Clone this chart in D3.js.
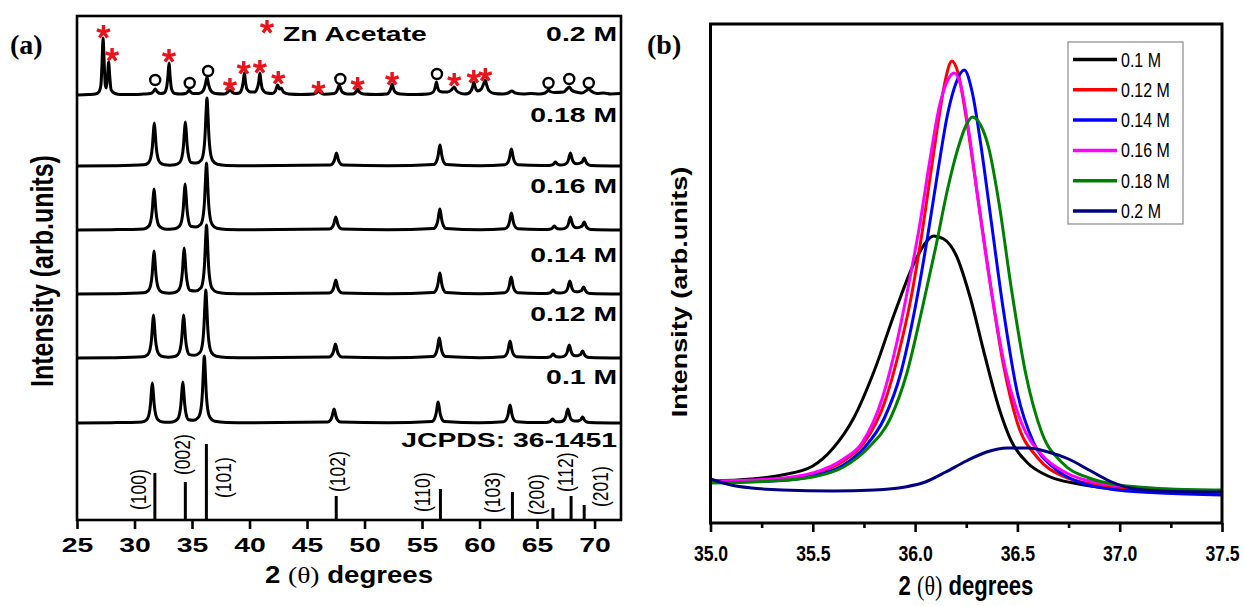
<!DOCTYPE html>
<html><head><meta charset="utf-8">
<script src="https://cdn.jsdelivr.net/npm/d3@7"></script>
<style>body{margin:0;background:#fff}svg text{white-space:pre}</style>
</head><body>
<svg id="c" width="1245" height="606"></svg>
<script>
// ================= DATA =================
// Panel (a): XRD patterns [2theta, intensity above own baseline]
const concLabels = ["0.1 M","0.12 M","0.14 M","0.16 M","0.18 M","0.2 M"];
const xrd01M = [[25,0],[28,0.3],[30.65,1.1],[31.05,3.2],[31.25,8],[31.39,18.8],[31.47,31.2],[31.55,40],[31.63,31.2],[31.71,18.8],[31.85,8],[32.05,3.2],[32.45,1.1],[32.9,0.8],[33.3,1.1],[33.7,3.3],[33.9,8.2],[34.04,19.3],[34.12,32],[34.2,41],[34.28,32],[34.36,19.3],[34.5,8.2],[34.7,3.3],[35.13,2.8],[35.57,5.9],[35.77,13.4],[35.91,31.5],[35.99,52.3],[36.07,67],[36.15,52.3],[36.23,31.5],[36.37,13.4],[36.57,5.4],[36.97,1.8],[38,0.6],[40,0.3],[46.8,1],[47.05,3.1],[47.19,7],[47.27,11.2],[47.35,14],[47.43,11.2],[47.51,7],[47.65,3.1],[47.9,1],[52,0.2],[55.85,1.5],[56.1,4.6],[56.24,10.5],[56.32,16.8],[56.4,21],[56.48,16.8],[56.56,10.5],[56.7,4.6],[56.95,1.5],[60,0.3],[62.1,1.3],[62.35,4],[62.49,9],[62.57,14.4],[62.65,18],[62.73,14.4],[62.81,9],[62.95,4],[63.2,1.3],[65.2,0.4],[65.8,0.5],[66.05,1.1],[66.19,2],[66.27,3.2],[66.35,4],[66.43,3.2],[66.51,2.1],[66.65,1.3],[66.95,1.2],[67.13,1.5],[67.38,3.3],[67.52,7.1],[67.6,11.3],[67.68,14],[67.76,11.3],[67.84,7.2],[67.98,3.5],[68.25,2],[68.5,2],[68.66,2.5],[68.8,3.3],[68.88,4.9],[68.96,6],[69.04,4.8],[69.12,3],[69.26,1.4],[69.55,0.5],[72.3,0]];
const xrd012M = [[25,0],[28,0.3],[30.75,1.2],[31.15,3.4],[31.35,8.6],[31.49,20.2],[31.57,33.5],[31.65,43],[31.73,33.5],[31.81,20.2],[31.95,8.6],[32.15,3.4],[32.55,1.2],[32.95,0.8],[33.37,1.2],[33.77,3.4],[33.97,8.6],[34.11,20.2],[34.19,33.5],[34.27,43],[34.35,33.5],[34.43,20.2],[34.57,8.6],[34.77,3.4],[35.23,2.8],[35.7,5.8],[35.9,13.6],[36.04,32],[36.12,53],[36.2,68],[36.28,53],[36.36,32],[36.5,13.6],[36.7,5.4],[37.1,1.8],[38,0.6],[40,0.3],[46.92,1],[47.17,3.1],[47.31,7],[47.39,11.2],[47.47,14],[47.55,11.2],[47.63,7],[47.77,3.1],[48.02,1],[52,0.2],[55.95,1.4],[56.2,4.4],[56.34,10],[56.42,16],[56.5,20],[56.58,16],[56.66,10],[56.8,4.4],[57.05,1.4],[60,0.3],[62.1,1.2],[62.35,3.7],[62.49,8.5],[62.57,13.6],[62.65,17],[62.73,13.6],[62.81,8.5],[62.95,3.7],[63.2,1.2],[65.2,0.4],[65.85,0.5],[66.1,1.1],[66.24,2],[66.32,3.2],[66.4,4],[66.48,3.2],[66.56,2.1],[66.7,1.3],[67.0,1.1],[67.25,1.4],[67.5,3.1],[67.64,6.7],[67.72,10.5],[67.8,13],[67.88,10.5],[67.96,6.8],[68.1,3.4],[68.32,2.2],[68.52,2.3],[68.66,2.9],[68.8,3.8],[68.88,5.7],[68.96,7],[69.04,5.6],[69.12,3.5],[69.26,1.6],[69.55,0.5],[72.3,0]];
const xrd014M = [[25,0],[28,0.3],[30.8,1.2],[31.2,3.4],[31.4,8.6],[31.54,20.2],[31.62,33.5],[31.7,43],[31.78,33.5],[31.86,20.2],[32.0,8.6],[32.2,3.4],[32.6,1.2],[33.0,0.8],[33.42,1.2],[33.82,3.7],[34.02,9.2],[34.16,21.6],[34.24,35.9],[34.32,46],[34.4,35.9],[34.48,21.6],[34.62,9.2],[34.82,3.7],[35.29,2.9],[35.76,5.9],[35.96,13.8],[36.1,32.4],[36.18,53.8],[36.26,69],[36.34,53.8],[36.42,32.4],[36.56,13.8],[36.76,5.5],[37.16,1.9],[38,0.6],[40,0.3],[46.95,1],[47.2,3.1],[47.34,7],[47.42,11.2],[47.5,14],[47.58,11.2],[47.66,7],[47.8,3.1],[48.05,1],[52,0.2],[56.0,1.5],[56.25,4.6],[56.39,10.5],[56.47,16.8],[56.55,21],[56.63,16.8],[56.71,10.5],[56.85,4.6],[57.1,1.5],[60,0.3],[62.2,1.2],[62.45,3.7],[62.59,8.5],[62.67,13.6],[62.75,17],[62.83,13.6],[62.91,8.5],[63.05,3.7],[63.3,1.2],[65.2,0.4],[65.85,0.5],[66.1,1.1],[66.24,2],[66.32,3.2],[66.4,4],[66.48,3.2],[66.56,2.1],[66.7,1.3],[67.02,1.1],[67.3,1.4],[67.55,3.1],[67.69,6.7],[67.77,10.5],[67.85,13],[67.93,10.5],[68.01,6.8],[68.15,3.4],[68.4,2.2],[68.61,2.3],[68.75,2.9],[68.89,3.8],[68.97,5.7],[69.05,7],[69.13,5.6],[69.21,3.5],[69.35,1.6],[69.65,0.5],[72.3,0]];
const xrd016M = [[25,0],[28,0.3],[30.8,1.1],[31.2,3.3],[31.4,8.2],[31.54,19.3],[31.62,32],[31.7,41],[31.78,32],[31.86,19.3],[32.0,8.2],[32.2,3.3],[32.6,1.1],[33.05,0.8],[33.5,1.2],[33.9,3.7],[34.1,9.2],[34.24,21.6],[34.32,35.9],[34.4,46],[34.48,35.9],[34.56,21.6],[34.7,9.2],[34.9,3.7],[35.33,3],[35.76,5.8],[35.96,13.4],[36.1,31.5],[36.18,52.3],[36.26,67],[36.34,52.3],[36.42,31.5],[36.56,13.4],[36.76,5.4],[37.16,1.8],[38,0.6],[40,0.3],[46.95,0.9],[47.2,2.9],[47.34,6.5],[47.42,10.4],[47.5,13],[47.58,10.4],[47.66,6.5],[47.8,2.9],[48.05,0.9],[52,0.2],[56.0,1.5],[56.25,4.6],[56.39,10.5],[56.47,16.8],[56.55,21],[56.63,16.8],[56.71,10.5],[56.85,4.6],[57.1,1.5],[60,0.3],[62.22,1.2],[62.47,3.7],[62.61,8.5],[62.69,13.6],[62.77,17],[62.85,13.6],[62.93,8.5],[63.07,3.7],[63.32,1.2],[65.3,0.4],[65.95,0.5],[66.2,1.1],[66.34,2],[66.42,3.2],[66.5,4],[66.58,3.2],[66.66,2.1],[66.8,1.3],[67.08,1.1],[67.35,1.4],[67.6,3.1],[67.74,6.7],[67.82,10.5],[67.9,13],[67.98,10.5],[68.06,6.8],[68.2,3.5],[68.45,2.3],[68.66,2.6],[68.8,3.3],[68.94,4.3],[69.02,6.5],[69.1,8],[69.18,6.4],[69.26,4],[69.4,1.8],[69.7,0.6],[72.3,0]];
const xrd018M = [[25,0],[28,0.3],[30.82,1.2],[31.22,3.4],[31.42,8.6],[31.56,20.2],[31.64,33.5],[31.72,43],[31.8,33.5],[31.88,20.2],[32.02,8.6],[32.22,3.4],[32.62,1.2],[33.07,0.8],[33.52,1.2],[33.92,3.5],[34.12,8.8],[34.26,20.7],[34.34,34.3],[34.42,44],[34.5,34.3],[34.58,20.7],[34.72,8.8],[34.92,3.5],[35.36,2.9],[35.8,5.8],[36.0,13.6],[36.14,32],[36.22,53],[36.3,68],[36.38,53],[36.46,32],[36.6,13.6],[36.8,5.4],[37.2,1.8],[38,0.6],[40,0.3],[47.01,0.9],[47.26,2.9],[47.4,6.5],[47.48,10.4],[47.56,13],[47.64,10.4],[47.72,6.5],[47.86,2.9],[48.11,0.9],[52,0.2],[56.01,1.5],[56.26,4.6],[56.4,10.5],[56.48,16.8],[56.56,21],[56.64,16.8],[56.72,10.5],[56.86,4.6],[57.11,1.5],[60,0.3],[62.22,1.2],[62.47,3.7],[62.61,8.5],[62.69,13.6],[62.77,17],[62.85,13.6],[62.93,8.5],[63.07,3.7],[63.32,1.2],[65.4,0.4],[66.05,0.5],[66.3,1.1],[66.44,2],[66.52,3.2],[66.6,4],[66.68,3.2],[66.76,2.1],[66.9,1.3],[67.1,1.1],[67.35,1.4],[67.6,3.1],[67.74,6.7],[67.82,10.5],[67.9,13],[67.98,10.5],[68.06,6.8],[68.2,3.5],[68.45,2.3],[68.66,2.6],[68.8,3.3],[68.94,4.3],[69.02,6.5],[69.1,8],[69.18,6.4],[69.26,4],[69.4,1.8],[69.7,0.6],[72.3,0]];
const xrd02M = [[25,0],[26,0.5],[26.6,1],[26.9,3],[27.08,10],[27.17,30],[27.27,57],[27.37,30],[27.47,9],[27.55,7],[27.65,18],[27.75,33],[27.85,18],[27.97,5],[28.3,1.5],[28.8,0.5],[30,0.5],[30.8,1],[31.4,1.5],[31.65,3.5],[31.8,6],[31.95,3.5],[32.25,1.5],[32.55,2],[32.78,7],[32.9,18],[33.0,32],[33.1,18],[33.22,6],[33.5,1.5],[34.0,1],[34.45,1.5],[34.62,3],[34.75,5],[34.88,3],[35.1,1.5],[35.6,1.5],[35.95,4],[36.15,10],[36.3,18],[36.45,10],[36.65,4],[37.0,1.5],[37.8,1],[38.1,2.8],[38.3,5],[38.5,2.8],[38.8,1.5],[39.1,2],[39.33,6],[39.45,13],[39.55,22],[39.65,13],[39.77,6],[40.1,3],[40.45,3],[40.68,7],[40.8,13],[40.9,22],[41.0,13],[41.12,6],[41.5,2],[42.0,1.5],[42.25,4],[42.45,10],[42.6,6],[42.75,7],[42.95,3],[43.4,1],[44.5,0.5],[45.6,1],[45.85,2.5],[46.0,4],[46.15,2.5],[46.5,0.8],[47.35,1.5],[47.6,4],[47.7,7],[47.8,10],[47.9,7],[48.05,3],[48.5,1],[49.0,1],[49.25,3],[49.4,6],[49.55,3],[49.9,1],[51,0.5],[51.95,1],[52.2,4],[52.3,7],[52.4,11],[52.5,7],[52.65,3],[53.1,1],[54.5,0.5],[55.5,1],[55.85,2],[56.08,5],[56.17,9],[56.25,13],[56.35,8],[56.5,4],[56.8,3],[57.2,3],[57.55,5],[57.7,7],[57.8,8],[57.95,5],[58.2,2.5],[58.7,1],[59.0,1.5],[59.3,5],[59.42,9],[59.5,13],[59.62,8],[59.85,4],[60.15,6],[60.35,11],[60.5,15],[60.62,10],[60.85,4],[61.3,1.5],[62.0,1],[62.5,2],[62.8,4],[63.1,2],[63.8,1],[64.5,1.5],[65.2,1],[65.7,2],[65.9,4],[66.0,5],[66.15,3.5],[66.5,2.5],[67.3,3],[67.6,6],[67.8,8],[68.0,5],[68.4,3],[68.9,2],[69.3,4.5],[69.5,6],[69.7,4],[70.2,1.5],[70.8,2],[71.4,1],[72.3,1.5]];
const acetateStars = [[27.3,63],[28.05,40],[33.0,39],[38.3,10],[39.5,27],[40.9,28],[42.5,17],[46.0,7],[49.4,11],[52.4,16],[57.8,15],[59.5,18],[60.5,20]];
const znoCircles = [[31.8,15],[34.8,12],[36.4,24],[47.9,16],[56.3,21],[66.0,12],[67.8,16],[69.5,12]];
const jcpdsPos = [31.77,34.42,36.25,47.54,56.6,62.86,66.38,67.96,69.1];
const jcpdsInt = [47,38,76,24,31,28,12,24,15];
const jcpdsHkl = ["(100)","(002)","(101)","(102)","(110)","(103)","(200)","(112)","(201)"];
const xTicksA = [25,30,35,40,45,50,55,60,65,70];

// Panel (b): zoom of (101) peak
const peak01M  = [[35.0,42],[35.2,44],[35.35,48],[35.5,57],[35.6,75],[35.7,105],[35.8,152],[35.9,210],[36.0,262],[36.05,280],[36.09,287],[36.14,284],[36.2,268],[36.27,225],[36.34,168],[36.41,115],[36.47,82],[36.55,60],[36.65,47],[36.8,39],[37.0,34],[37.25,32],[37.5,30]];
const peak012M = [[35.0,41],[35.3,43],[35.5,49],[35.65,62],[35.75,80],[35.85,120],[35.92,170],[35.98,225],[36.03,285],[36.08,355],[36.12,410],[36.15,445],[36.18,462],[36.21,450],[36.25,405],[36.3,335],[36.36,250],[36.43,160],[36.5,100],[36.6,65],[36.72,47],[36.9,38],[37.2,33],[37.5,31]];
const peak014M = [[35.0,41],[35.3,42],[35.5,47],[35.65,58],[35.75,75],[35.85,105],[35.93,150],[36.0,215],[36.06,285],[36.11,350],[36.16,410],[36.2,440],[36.24,453],[36.28,430],[36.32,380],[36.37,305],[36.43,215],[36.5,130],[36.58,80],[36.68,55],[36.8,41],[36.95,34],[37.2,30],[37.5,28]];
const peak016M = [[35.0,42],[35.3,44],[35.5,50],[35.65,64],[35.74,80],[35.84,125],[35.91,180],[35.97,240],[36.02,295],[36.07,360],[36.12,418],[36.16,443],[36.19,450],[36.22,440],[36.26,395],[36.31,320],[36.37,235],[36.44,155],[36.52,100],[36.62,68],[36.74,50],[36.9,40],[37.2,34],[37.5,31]];
const peak018M = [[35.0,40],[35.3,42],[35.5,46],[35.65,56],[35.77,75],[35.88,105],[35.96,150],[36.03,210],[36.1,275],[36.16,335],[36.21,375],[36.25,398],[36.28,406],[36.32,398],[36.36,375],[36.41,320],[36.47,235],[36.54,150],[36.62,90],[36.72,60],[36.85,45],[37.0,38],[37.25,34],[37.5,33]];
const peak02M  = [[35.0,44],[35.1,38],[35.2,35],[35.35,33],[35.6,32],[35.8,33],[35.95,36],[36.05,41],[36.15,51],[36.25,62],[36.35,71],[36.45,75],[36.55,75],[36.65,71],[36.75,64],[36.85,53],[36.95,42],[37.05,35],[37.2,32],[37.5,31]];
const xTicksB = [35.0,35.25,35.5,35.75,36.0,36.25,36.5,36.75,37.0,37.25,37.5];

// ================= LAYOUT / STYLE =================
const FONT = "'Liberation Sans', Arial, Helvetica, sans-serif";
const SERIF = "'Liberation Serif', 'Times New Roman', serif";
const seriesColors = ["#000000","#ff0000","#0000ff","#ff00ff","#008000","#000080"];
const traceOffsets = [97,162,226,290,354,425];
const traceLabelBaselines = [384,321,262,193,122,41];
const SXA = 1.35, SXB = 0.8;

const svg = d3.select("#c");
const defs = svg.append("defs");

function htext(g, x, y, str, o) {
  const t = g.append("text")
    .attr("transform", `translate(${x},${y}) scale(${o.sx||1},1)`)
    .attr("font-family", o.family || FONT)
    .attr("font-size", o.size)
    .attr("font-weight", o.weight || "bold")
    .attr("text-anchor", o.anchor || "start")
    .attr("fill", "#000");
  if (str !== null) t.text(str);
  return t;
}
function vtext(g, x, y, str, o) {
  return g.append("text")
    .attr("transform", `translate(${x},${y}) rotate(-90) scale(1,${o.sy||1})`)
    .attr("font-family", o.family || FONT)
    .attr("font-size", o.size)
    .attr("font-weight", o.weight || "bold")
    .attr("text-anchor", o.anchor || "middle")
    .attr("dy", "0.35em")
    .text(str);
}

// ================= PANEL (a) =================
const A = {l:77, r:621, t:16, b:520};
const ax = d3.scaleLinear().domain([25,72.3]).range([A.l, A.r]);
const ay = d3.scaleLinear().domain([0,504]).range([A.b, A.t]);
const gA = svg.append("g");
defs.append("clipPath").attr("id","clipA")
  .append("rect").attr("x",A.l).attr("y",A.t).attr("width",A.r-A.l).attr("height",A.b-A.t);

const tracesA = [xrd01M, xrd012M, xrd014M, xrd016M, xrd018M, xrd02M];
const gTr = gA.append("g").attr("clip-path","url(#clipA)");
tracesA.forEach((tr, i) => {
  const line = d3.line().x(d => ax(d[0])).y(d => ay(d[1] + traceOffsets[i])).curve(d3.curveMonotoneX);
  gTr.append("path").attr("d", line(tr)).attr("fill","none")
    .attr("stroke","#000").attr("stroke-width",3).attr("stroke-linejoin","round");
});

// JCPDS sticks
gTr.selectAll("line.stick").data(jcpdsPos).join("line")
  .attr("x1", d => ax(d)).attr("x2", d => ax(d))
  .attr("y1", ay(0)).attr("y2", (d,i) => ay(jcpdsInt[i]))
  .attr("stroke","#000").attr("stroke-width",3);

// hkl labels: [dx from stick px, bottom y px]
const hklLayout = [[-17,510],[-3,475],[17,498],[1,492],[-18,512],[-20,513],[-17,515],[-6,492],[16,507]];
jcpdsHkl.forEach((s, i) => {
  vtext(gA, ax(jcpdsPos[i]) + hklLayout[i][0], hklLayout[i][1], s,
    {size:17.5, weight:"normal", anchor:"start", sy:1.3});
});

// Zn acetate stars & ZnO circles on 0.2 M trace
const starType = { draw(ctx, size) { const r = Math.sqrt(size)/2;
  for (let k=0;k<5;k++){ const a=-Math.PI/2+k*2*Math.PI/5; ctx.moveTo(0,0); ctx.lineTo(r*Math.cos(a), r*Math.sin(a)); } } };
const starPath = d3.symbol().type(starType).size(190)();
gA.selectAll("path.star").data(acetateStars).join("path")
  .attr("d", starPath)
  .attr("transform", d => `translate(${ax(d[0])},${ay(d[1] + traceOffsets[5])})`)
  .attr("fill","none").attr("stroke","#e8141c").attr("stroke-width",3.4);
gA.selectAll("circle.zno").data(znoCircles).join("circle")
  .attr("cx", d => ax(d[0])).attr("cy", d => ay(d[1] + traceOffsets[5])).attr("r",5)
  .attr("fill","none").attr("stroke","#000").attr("stroke-width",2.4);

// legend star + text
gA.append("path").attr("d", starPath).attr("transform","translate(267,27)")
  .attr("fill","none").attr("stroke","#e8141c").attr("stroke-width",3.4);
htext(gA, 283, 41, "Zn Acetate", {size:21, sx:SXA});

// trace labels
concLabels.forEach((s, i) => htext(gA, 617, traceLabelBaselines[i], s, {size:21, sx:SXA, anchor:"end"}));
htext(gA, 617, 447, "JCPDS: 36-1451", {size:21, sx:SXA, anchor:"end"});

// frame
gA.append("rect").attr("x",A.l).attr("y",A.t).attr("width",A.r-A.l).attr("height",A.b-A.t)
  .attr("fill","none").attr("stroke","#000").attr("stroke-width",2.6);

// x axis
const axA = gA.append("g").attr("transform",`translate(0,${A.b})`)
  .call(d3.axisBottom(ax).tickValues(xTicksA).tickSize(9).tickSizeOuter(0).tickFormat(d3.format("d")));
axA.select(".domain").remove();
axA.selectAll(".tick line").attr("stroke","#000").attr("stroke-width",2.6);
axA.selectAll(".tick text").attr("y",null).attr("dy",null)
  .attr("transform",`translate(0,32) scale(${SXA},1)`)
  .attr("font-family",FONT).attr("font-size",21).attr("font-weight","bold").attr("fill","#000");

// titles
const tA = htext(gA, 349, 583, null, {size:23, sx:1.2, anchor:"middle"});
tA.append("tspan").text("2 ");
tA.append("tspan").attr("font-family",SERIF).attr("font-weight","normal").text("(θ)");
tA.append("tspan").text(" degrees");
vtext(gA, 42, 271, "Intensity (arb.units)", {size:25, weight:"bold", sy:1.25});
htext(gA, 10, 54, "(a)", {size:28, family:SERIF});

// ================= PANEL (b) =================
const B = {l:710.5, r:1222, t:24, b:523};
const bx = d3.scaleLinear().domain([35,37.5]).range([B.l, B.r]);
const by = d3.scaleLinear().domain([0,499]).range([B.b, B.t]);
const gB = svg.append("g");
defs.append("clipPath").attr("id","clipB")
  .append("rect").attr("x",B.l).attr("y",B.t).attr("width",B.r-B.l).attr("height",B.b-B.t);

const peaksB = [peak01M, peak012M, peak014M, peak016M, peak018M, peak02M];
const lineB = d3.line().x(d => bx(d[0])).y(d => by(d[1])).curve(d3.curveMonotoneX);
const gCurves = gB.append("g").attr("clip-path","url(#clipB)");
peaksB.forEach((p, i) => {
  gCurves.append("path").attr("d", lineB(p)).attr("fill","none")
    .attr("stroke", seriesColors[i]).attr("stroke-width",3).attr("stroke-linejoin","round");
});

gB.append("rect").attr("x",B.l).attr("y",B.t).attr("width",B.r-B.l).attr("height",B.b-B.t)
  .attr("fill","none").attr("stroke","#000").attr("stroke-width",3);

const isMajor = d => Math.abs(d*2 - Math.round(d*2)) < 1e-6;
const axB = gB.append("g").attr("transform",`translate(0,${B.b})`)
  .call(d3.axisBottom(bx).tickValues(xTicksB).tickSizeOuter(0)
    .tickFormat(d => isMajor(d) ? d3.format(".1f")(d) : ""));
axB.select(".domain").remove();
axB.selectAll(".tick line").attr("stroke","#000").attr("stroke-width",2.6)
  .attr("y2", d => isMajor(d) ? 9 : 5);
axB.selectAll(".tick text").attr("y",null).attr("dy",null)
  .attr("transform",`translate(0,38) scale(${SXB},1)`)
  .attr("font-family",FONT).attr("font-size",22).attr("font-weight","bold").attr("fill","#000");

const tB = htext(gB, 966, 595, null, {size:27, sx:0.82, anchor:"middle"});
tB.append("tspan").text("2 ");
tB.append("tspan").attr("font-family",SERIF).attr("font-weight","normal").text("(θ)");
tB.append("tspan").text(" degrees");
vtext(gB, 679, 292, "Intensity (arb.units)", {size:27, sy:0.8});
htext(gB, 647, 54, "(b)", {size:28, family:SERIF});

// legend
const L = {x:1068, y:42, w:115, h:182};
gB.append("rect").attr("x",L.x).attr("y",L.y).attr("width",L.w).attr("height",L.h)
  .attr("fill","#fff").attr("stroke","#8a8a8a").attr("stroke-width",1.2);
concLabels.forEach((s, i) => {
  const yy = 59.5 + i*30.3;
  gB.append("line").attr("x1",1073).attr("x2",1117).attr("y1",yy).attr("y2",yy)
    .attr("stroke",seriesColors[i]).attr("stroke-width",3.5);
  htext(gB, 1121, yy + 7, s, {size:19.5, weight:"normal", sx:0.82});
});
</script>
</body></html>
